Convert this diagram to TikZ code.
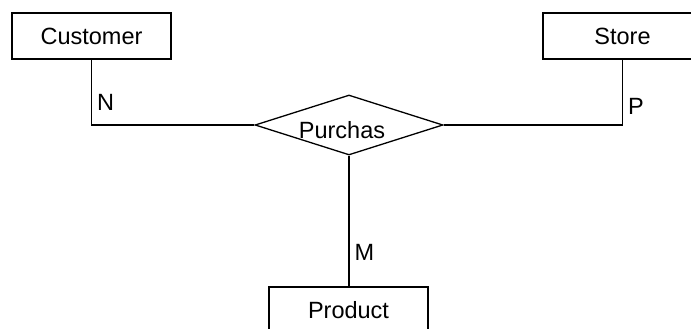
\documentclass[tikz,border=0pt]{standalone}
\usepackage{fontspec}
\setmainfont{Liberation Sans}
\usetikzlibrary{shapes.geometric}
\begin{document}
\begin{tikzpicture}[x=1pt,y=-1pt,
  line width=1.3pt,
  every node/.style={font=\fontsize{23.5}{27}\selectfont},
  entity/.style={draw, rectangle, minimum width=159pt, minimum height=46pt, inner sep=0pt},
  relation/.style={draw, diamond, minimum width=188pt, minimum height=60pt, inner sep=0pt},
  card/.style={anchor=west, inner sep=0pt, xshift=5pt}]
  \useasboundingbox (0,0) rectangle (691,329);
  % entities and the relationship
  \node[entity] (cust) at (91.5,36) {Customer};
  \node[entity] (store) at (622.5,36) {Store};
  \node[entity] (prod) at (348.5,310) {Product};
  \node[relation, label={[xshift=-7pt,yshift=-5pt]center:Purchas}] (purch) at (349,125) {};
  % connectors with cardinalities
  \draw (cust.south) |- node[card, pos=0.33] {N} (purch.west);
  \draw (store.south) |- node[card, pos=0.36] {P} (purch.east);
  \draw (purch.south) -- node[card, pos=0.74] {M} (purch.south |- prod.north);
\end{tikzpicture}
\end{document}
